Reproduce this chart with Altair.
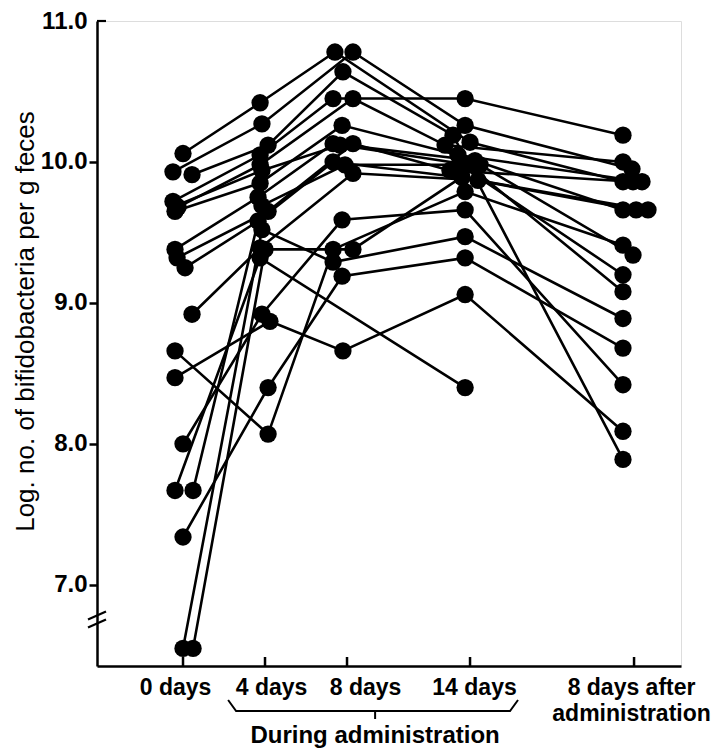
import altair as alt
import pandas as pd

# ---- data (day position of each dot, log count) ----
# one entry per subject (S1..S19); None = no point at that time
x0 = [0.0, -0.49, 0.44, -0.49, -0.24, -0.39, -0.39, -0.29, 0.1, 0.44, -0.39, -0.39, 0.0, -0.39, 0.0, 0.0, 0.49, 0.49, -0.34]
v0 = [10.06, 9.93, 9.91, 9.72, 9.68, 9.65, 9.38, 9.32, 9.25, 8.92, 8.66, 8.47, 8.00, 7.67, 7.34, 6.55, 6.55, 7.67, 9.69]
x4 = [3.76, 3.85, 4.15, 3.76, 3.76, 3.76, 3.66, 4.15, 3.66, 3.76, 4.15, 4.24, 3.85, 3.76, 4.15, 3.85, 4.0, 3.85, 3.85]
v4 = [10.42, 10.27, 10.12, 10.05, 9.98, 9.85, 9.75, 9.65, 9.58, 9.39, 8.07, 8.87, 8.92, 9.32, 8.40, 9.52, 9.38, 9.69, 9.94]
x8 = [7.41, 8.29, 7.80, 7.32, 8.29, 7.76, 7.32, 8.29, 7.32, 8.29, 7.32, 7.80, 7.76, None, 7.76, 7.32, 8.29, 7.90, 7.66]
v8 = [10.78, 10.78, 10.64, 10.45, 10.45, 10.26, 10.13, 10.13, 10.00, 9.92, 9.38, 8.66, 9.59, None, 9.19, 9.29, 9.38, 9.98, 10.12]
x14 = [14.0, 13.76, 13.17, 13.76, 12.78, 13.41, 14.24, 13.02, 13.61, 14.39, 13.76, 13.76, 13.76, 13.76, 13.76, 13.76, 14.49, 13.51, 13.90]
v14 = [10.14, 10.26, 10.19, 10.45, 10.12, 10.05, 10.01, 9.94, 9.89, 9.87, 9.79, 9.06, 9.66, 8.40, 9.32, 9.47, 9.98, 9.98, 9.98]
xa = [21.46, 21.90, 21.46, 21.46, 21.46, 22.39, 21.46, 21.95, 22.10, 22.68, 21.46, 21.46, 21.46, None, 21.46, 21.46, 21.95, 21.46, 21.46]
va = [9.86, 9.95, 7.89, 10.19, 10.00, 9.86, 9.66, 9.86, 9.66, 9.66, 9.41, 8.09, 8.42, None, 8.68, 8.89, 9.34, 9.20, 9.08]

tick_days = [0, 4, 8, 14, 22]
tick_names = ["0 days", "4 days", "8 days", "14 days", "8 days after|administration"]
y_ticks = [7, 8, 9, 10, 11]
y_title = "Log. no. of bifidobacteria per g feces"
bracket_label = "During administration"

rows = []
for s in range(len(v0)):
    for t, (xs_, vs_) in enumerate([(x0, v0), (x4, v4), (x8, v8), (x14, v14), (xa, va)]):
        if vs_[s] is not None:
            rows.append({"subject": f"S{s+1}", "t": t, "day": xs_[s], "value": vs_[s]})
df = pd.DataFrame(rows)

FONT = "Liberation Sans"
XMIN, XMAX = -4.195, 24.29
YMIN, YMAX = 6.425, 11.0
H = 645
xs = alt.Scale(domain=[XMIN, XMAX], nice=False, zero=False)
ys = alt.Scale(domain=[YMIN, YMAX], nice=False, zero=False)

label_map = "{" + ",".join(f"'{d}':'{n}'" for d, n in zip(tick_days, tick_names)) + "}"
xaxis = alt.Axis(
    values=tick_days, title=None, ticks=False, grid=False,
    domainColor="black", domainWidth=2.5,
    labelExpr=f"split({label_map}[''+datum.value], '|')",
    labelFont=FONT, labelFontSize=23, labelFontWeight="bold", labelColor="black",
    labelPadding=10, labelLineHeight=26, labelFlush=False, labelOverlap=False,
    labelOffset={"condition": [
        {"test": "datum.value == 0", "value": -8},
        {"test": "datum.value == 4", "value": 6},
        {"test": "datum.value == 8", "value": 18},
        {"test": "datum.value == 14", "value": 4},
    ], "value": -3},
)
yaxis = alt.Axis(
    values=y_ticks, format=".1f", title=y_title, grid=False,
    domainColor="black", domainWidth=2.5,
    tickSize=8, tickWidth=2.5,
    tickColor={"condition": {"test": "datum.value == 11", "value": "transparent"}, "value": "black"},
    labelFont=FONT, labelFontSize=24, labelFontWeight="bold", labelColor="black", labelPadding=2,
    titleFont=FONT, titleFontSize=26, titleFontWeight="normal", titleColor="black", titlePadding=2,
    titleY=300,
)
X = alt.X("day:Q", scale=xs, axis=xaxis)
Y = alt.Y("value:Q", scale=ys, axis=yaxis)

lines = alt.Chart(df).mark_line(color="black", strokeWidth=2.6).encode(
    x=X, y=Y, detail="subject:N", order="t:O")
points = alt.Chart(df).mark_circle(size=300, color="black", opacity=1).encode(x=X, y=Y)

# x ticks pointing up into the plot
px = (YMAX - YMIN) / H  # value units per pixel
xtick_df = pd.DataFrame({"day": tick_days, "value": [YMIN] * 5, "value2": [YMIN + 9 * px] * 5})
xticks = alt.Chart(xtick_df).mark_rule(color="black", strokeWidth=2.5).encode(
    x=X, y=Y, y2="value2:Q")

# top tick at 11.0 pointing right, and the axis break marks
dpx = 1 / 20.5
seg_df = pd.DataFrame({
    "day": [XMIN, XMIN - 9 * dpx, XMIN - 9 * dpx],
    "day2": [XMIN + 9 * dpx, XMIN + 9 * dpx, XMIN + 9 * dpx],
    "value": [YMAX, 6.747 - 7 * px, 6.747 + 1 * px],
    "value2": [YMAX, 6.747 + 1 * px, 6.747 + 9 * px],
})
segs = alt.Chart(seg_df).mark_rule(color="black", strokeWidth=2.2).encode(
    x=X, y=Y, x2="day2:Q", y2="value2:Q")

# bracket under the "during administration" days
yb1 = YMIN - 34 * px
yb2 = YMIN - 45 * px
br_df = pd.DataFrame({
    "k": [0, 1, 2, 3],
    "day": [2.2, 2.59, 15.95, 16.34],
    "value": [yb1, yb2, yb2, yb1],
})
bracket = alt.Chart(br_df).mark_line(color="black", strokeWidth=2).encode(x=X, y=Y, order="k:O")
brtick_df = pd.DataFrame({"day": [9.37], "value": [yb2], "value2": [YMIN - 53 * px]})
brtick = alt.Chart(brtick_df).mark_rule(color="black", strokeWidth=2).encode(x=X, y=Y, y2="value2:Q")
brtext = alt.Chart(pd.DataFrame({"day": [9.37], "value": [YMIN - 70 * px], "label": [bracket_label]})).mark_text(
    font=FONT, fontSize=24, fontWeight="bold", color="black", baseline="middle", align="center"
).encode(x=X, y=Y, text="label:N")

chart = alt.layer(lines, points, xticks, segs, bracket, brtick, brtext).properties(
    width=584, height=H,
    autosize=alt.AutoSizeParams(type="none"),
    padding={"left": 89, "top": 13, "right": 36, "bottom": 82},
).configure_view(stroke=None).configure(background="white")

chart.save("out.html", embed_options={"renderer": "svg", "actions": False})
